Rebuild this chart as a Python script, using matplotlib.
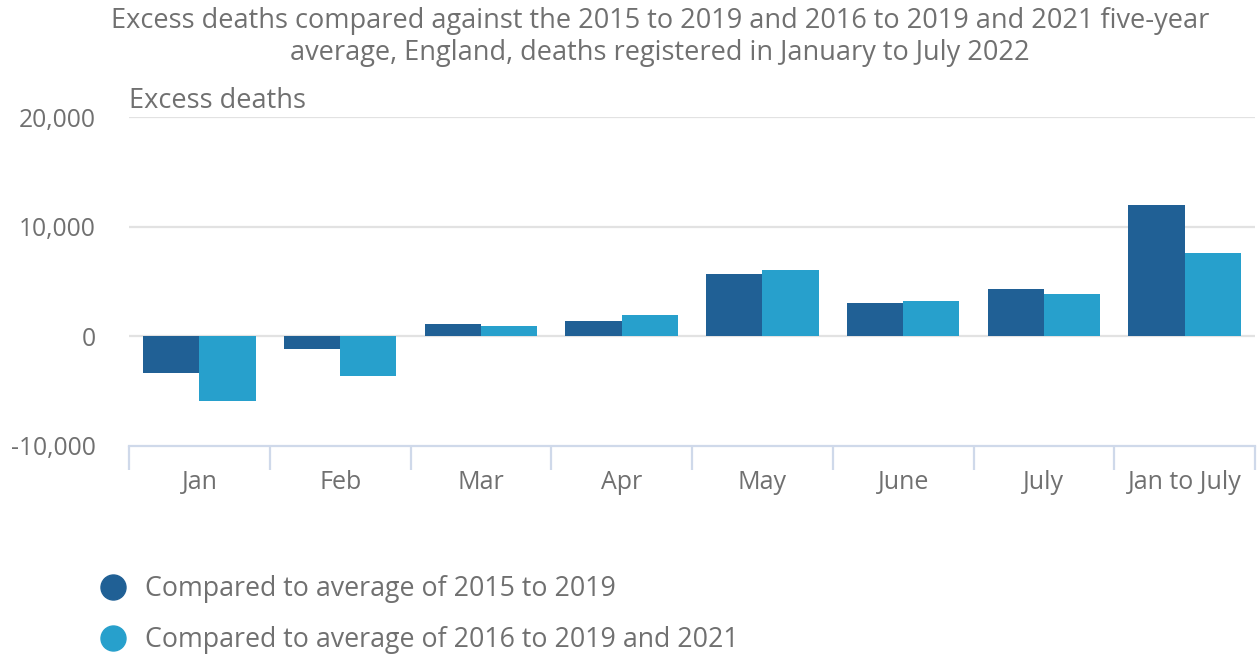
import matplotlib
matplotlib.use("Agg")
import matplotlib.pyplot as plt
import numpy as np
from matplotlib.lines import Line2D

plt.rcParams['font.family'] = ['Open Sans', 'DejaVu Sans']

categories = ["Jan", "Feb", "Mar", "Apr", "May", "June", "July", "Jan to July"]
avg_2015_2019 = [-3370, -1130, 1160, 1410, 5720, 3030, 4280, 12000]
avg_2016_2019_2021 = [-5870, -3600, 950, 1990, 6090, 3220, 3840, 7620]
series_names = ["Compared to average of 2015 to 2019",
                "Compared to average of 2016 to 2019 and 2021"]
yticks = [-10000, 0, 10000, 20000]
ytick_labels = ["-10,000", "0", "10,000", "20,000"]

dark = "#206095"
light = "#27a0cc"
text_col = "#707070"
grid_col = "#e2e2e2"
axis_col = "#cfd9ea"

W, H = 1257, 660
fig = plt.figure(figsize=(W/100, H/100), dpi=100)
ax = fig.add_axes([129/W, 1-446/H, (1255-129)/W, (446-117)/H])

x = np.arange(len(categories))
w = 0.4
ax.bar(x - w/2, avg_2015_2019, width=w, color=dark, zorder=3)
ax.bar(x + w/2, avg_2016_2019_2021, width=w, color=light, zorder=3)

ax.set_xlim(-0.5, len(categories) - 0.5)
ax.set_ylim(-10000, 20000)
ax.set_yticks(yticks)
ax.set_yticklabels(ytick_labels)
for yv in [0, 10000, 20000]:
    ax.axhline(yv, color=grid_col, lw=1.6, zorder=1)

for s in ['top', 'right', 'left']:
    ax.spines[s].set_visible(False)
ax.spines['bottom'].set_color(axis_col)
ax.spines['bottom'].set_linewidth(1.6)

ax.set_xticks(np.arange(len(categories) + 1) - 0.5, minor=False)
ax.set_xticklabels([])
ax.tick_params(axis='x', which='major', length=17, width=1.6, color=axis_col)
ax.set_xticks(x, minor=True)
ax.set_xticklabels(categories, minor=True)
ax.tick_params(axis='x', which='minor', length=0, pad=17, labelsize=18, labelcolor=text_col)
ax.tick_params(axis='y', length=0, pad=24, labelsize=17.7, labelcolor=text_col)

fig.text(660/W, 1-21/H, "Excess deaths compared against the 2015 to 2019 and 2016 to 2019 and 2021 five-year",
         ha='center', va='center', fontsize=19.5, color=text_col)
fig.text(660/W, 1-53/H, "average, England, deaths registered in January to July 2022",
         ha='center', va='center', fontsize=19.5, color=text_col)
fig.text(129/W, 1-101/H, "Excess deaths", ha='left', va='center', fontsize=19.5, color=text_col)

for i, (name, c) in enumerate(zip(series_names, (dark, light))):
    yy = 1 - (587 + 51*i)/H
    fig.add_artist(Line2D([113/W], [yy], marker='o', color='none', markerfacecolor=c,
                          markeredgecolor=c, markersize=18, transform=fig.transFigure))
    fig.text(145/W, yy - 2/H, name, ha='left', va='center', fontsize=19.3, color=text_col)

fig.savefig("out.png", dpi=100)
